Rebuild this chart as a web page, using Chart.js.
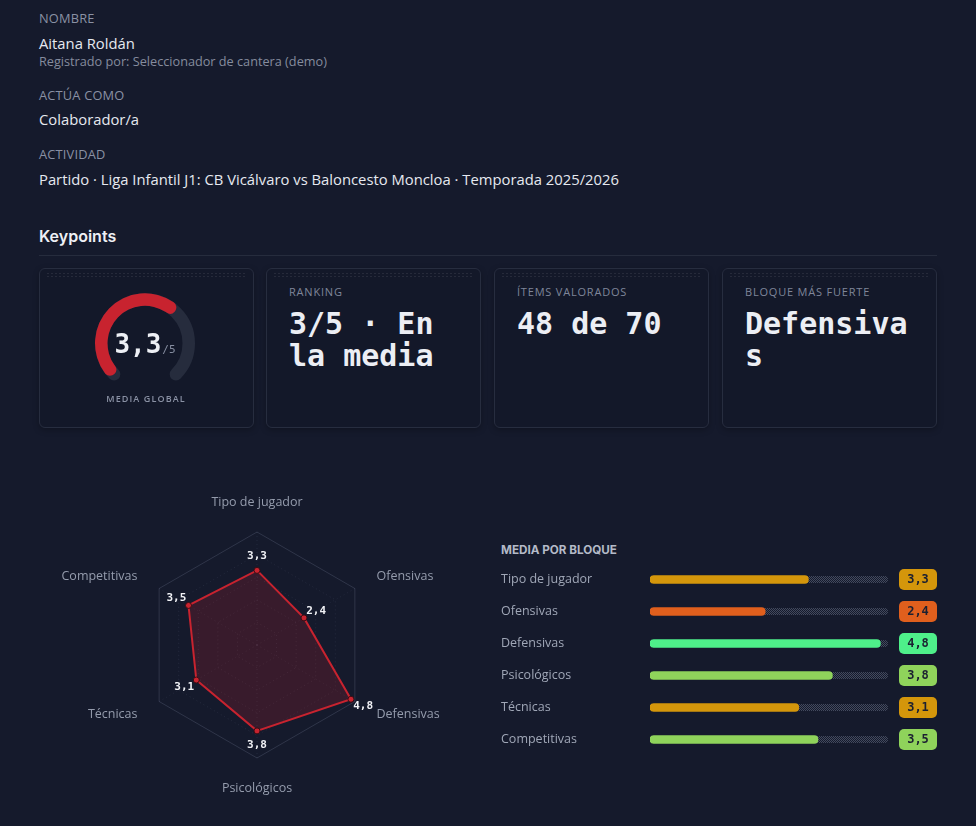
<!DOCTYPE html>
<html lang="es">
<head>
<meta charset="utf-8">
<title>Keypoints</title>
<script src="https://cdn.jsdelivr.net/npm/chart.js@4.4.1/dist/chart.umd.min.js"></script>
<style>
html,body{margin:0;padding:0;width:976px;height:826px;overflow:hidden;background:#151a2c;}
body{position:relative;font-family:"Open Sans","Noto Sans",sans-serif;color:#e4e7ee;}
.abs{position:absolute;white-space:nowrap;}
.flabel{left:39px;font-size:12.8px;line-height:16px;color:#8a91a4;text-transform:uppercase;letter-spacing:.2px;}
.fval{left:39px;font-size:14.8px;line-height:18px;color:#e6e9f0;}
.fsub{left:39px;font-size:12.7px;line-height:16px;color:#858c9e;}
.h2{left:39px;top:226px;font-family:Inter,"Noto Sans",sans-serif;font-weight:600;font-size:16px;line-height:20px;color:#eef0f5;letter-spacing:0px;}
.rule{position:absolute;left:39px;top:255px;width:898px;height:1px;background:#262c3d;}
.card{position:absolute;top:268px;width:213px;height:158px;border:1px solid #272d3f;border-radius:6px;background:#131829;box-shadow:0 2px 6px rgba(0,0,0,.25);}
.card::before{content:"";position:absolute;left:6px;right:6px;top:3px;height:5px;
  background-image:radial-gradient(circle,rgba(255,255,255,.08) 0.7px,transparent 0.9px);background-size:4px 3px;}
.ctitle{font-size:11px;line-height:16px;color:#7f8699;text-transform:uppercase;letter-spacing:.8px;}
.cvalue{position:absolute;width:172px;white-space:normal;overflow-wrap:anywhere;word-break:break-all;font-family:"DejaVu Sans Mono",monospace;font-weight:bold;font-size:30px;line-height:32px;color:#eceef4;}
.mg{font-size:9px;line-height:12px;color:#8a91a4;letter-spacing:1.1px;font-weight:600;text-transform:uppercase;}
.bt{left:501px;top:543px;font-family:Inter,"Noto Sans",sans-serif;font-weight:700;font-size:11.7px;line-height:14px;color:#b4bac8;letter-spacing:0px;text-transform:uppercase;}
canvas{position:absolute;}
</style>
</head>
<body>
<div class="abs flabel" style="top:10px">Nombre</div>
<div class="abs fval" style="top:34px">Aitana Roldán</div>
<div class="abs fsub" style="top:53px">Registrado por: Seleccionador de cantera (demo)</div>
<div class="abs flabel" style="top:87px">Actúa como</div>
<div class="abs fval" style="top:110px">Colaborador/a</div>
<div class="abs flabel" style="top:146px">Actividad</div>
<div class="abs fval" style="top:170px">Partido · Liga Infantil J1: CB Vicálvaro vs Baloncesto Moncloa · Temporada 2025/2026</div>

<div class="abs h2">Keypoints</div>
<div class="rule"></div>

<div class="card" style="left:39px"></div>
<div class="card" style="left:266px"></div>
<div class="card" style="left:494px"></div>
<div class="card" style="left:722px"></div>

<canvas id="gauge" width="120" height="120" style="left:85px;top:276px;width:120px;height:120px"></canvas>
<div class="abs mg" style="left:95px;width:102px;text-align:center;top:393px">Media global</div>

<div class="abs ctitle" style="left:289px;top:284px">Ranking</div>
<div class="cvalue" id="v1" style="left:289px;top:308px"></div>
<div class="abs ctitle" style="left:517px;top:284px">Ítems valorados</div>
<div class="cvalue" id="v2" style="left:517px;top:308px"></div>
<div class="abs ctitle" style="left:745px;top:284px">Bloque más fuerte</div>
<div class="cvalue" id="v3" style="left:745px;top:308px"></div>

<canvas id="radar" width="436" height="345" style="left:39px;top:473px;width:436px;height:345px"></canvas>

<div class="abs bt">Media por bloque</div>
<canvas id="bars" width="439" height="207" style="left:501px;top:556px;width:439px;height:207px"></canvas>

<script>
// ---- data ----
const categories = ['Tipo de jugador', 'Ofensivas', 'Defensivas', 'Psicológicos', 'Técnicas', 'Competitivas'];
const blockMeans = [3.3, 2.4, 4.8, 3.8, 3.1, 3.5];
const globalMean = [3.3];
const scaleMax = [5];
const rankingText = ['3/5 · En la media'];
const itemsText = ['48 de 70'];
const strongestBlock = ['Defensivas'];

// ---- helpers ----
const fmt = v => v.toFixed(1).replace('.', ',');
function colorFor(v) {
  if (v < 2.5) return '#e05f1d';
  if (v < 3.5) return '#d4960b';
  if (v < 4.5) return '#8fd35b';
  return '#4ef08a';
}
const MONO = '"DejaVu Sans Mono", monospace';
const SANS = '"Open Sans", "Noto Sans", sans-serif';

document.getElementById('v1').textContent = rankingText[0];
document.getElementById('v2').textContent = itemsText[0];
document.getElementById('v3').textContent = strongestBlock[0];

Chart.defaults.animation = false;
Chart.defaults.responsive = false;
Chart.defaults.events = [];
Chart.defaults.plugins.legend.display = false;
Chart.defaults.plugins.tooltip.enabled = false;

// ---- gauge ----
const gaugePlugin = {
  id: 'gaugeDeco',
  beforeDatasetsDraw(chart) {
    const meta = chart.getDatasetMeta(0);
    const a0 = meta.data[0], a1 = meta.data[1];
    const ctx = chart.ctx;
    const r = (a0.outerRadius + a0.innerRadius) / 2;
    ctx.save();
    ctx.beginPath();
    ctx.arc(a0.x, a0.y, r, a0.startAngle, a1.endAngle);
    ctx.lineWidth = a0.outerRadius - a0.innerRadius;
    ctx.lineCap = 'round';
    ctx.strokeStyle = '#262c3d';
    ctx.stroke();
    ctx.restore();
  },
  afterDatasetsDraw(chart) {
    const a0 = chart.getDatasetMeta(0).data[0];
    const ctx = chart.ctx;
    const big = fmt(globalMean[0]);
    const small = '/' + scaleMax[0];
    ctx.save();
    ctx.font = '600 26px ' + MONO;
    const wb = ctx.measureText(big).width;
    ctx.font = '11px ' + MONO;
    const ws = ctx.measureText(small).width;
    const x0 = a0.x - (wb + ws + 1) / 2;
    const yb = a0.y + 9.5;
    ctx.textBaseline = 'alphabetic';
    ctx.textAlign = 'left';
    ctx.font = '600 26px ' + MONO;
    ctx.fillStyle = '#eef0f5';
    ctx.fillText(big, x0, yb);
    ctx.font = '11px ' + MONO;
    ctx.fillStyle = '#868da0';
    ctx.fillText(small, x0 + wb + 1, yb);
    ctx.restore();
  }
};
new Chart(document.getElementById('gauge'), {
  type: 'doughnut',
  data: {
    datasets: [{
      data: [globalMean[0], scaleMax[0] - globalMean[0]],
      backgroundColor: ['#c8232f', 'rgba(0,0,0,0)'],
      borderWidth: 0,
      borderRadius: c => c.dataIndex === 0 ? 8 : 0
    }]
  },
  options: { rotation: -135, circumference: 270, radius: 50, cutout: '75%' },
  plugins: [gaugePlugin]
});

// ---- radar ----
const radarLabels = {
  id: 'radarLabels',
  afterDatasetsDraw(chart) {
    const s = chart.scales.r;
    const ctx = chart.ctx;
    const meta = chart.getDatasetMeta(0);
    const n = categories.length;
    ctx.save();
    ctx.font = '12.5px ' + SANS;
    ctx.fillStyle = '#959cad';
    ctx.textBaseline = 'middle';
    for (let i = 0; i < n; i++) {
      const ang = i * 360 / n;
      const vertical = (ang === 0 || ang === 180);
      const p = s.getPointPosition(i, s.drawingArea + (vertical ? 30 : 25));
      ctx.textAlign = vertical ? 'center' : (ang < 180 ? 'left' : 'right');
      ctx.fillText(categories[i], p.x, p.y);
    }
    ctx.font = 'bold 11px ' + MONO;
    ctx.fillStyle = '#f1f2f6';
    ctx.textAlign = 'center';
    for (let i = 0; i < n; i++) {
      const pt = meta.data[i];
      const ang = s.getIndexAngle(i) - Math.PI / 2;
      ctx.fillText(fmt(blockMeans[i]), pt.x + Math.cos(ang) * 14, pt.y + Math.sin(ang) * 14);
    }
    ctx.restore();
  }
};
new Chart(document.getElementById('radar'), {
  type: 'radar',
  data: {
    labels: categories,
    datasets: [{
      data: blockMeans,
      borderColor: '#c8232f',
      borderWidth: 2,
      backgroundColor: 'rgba(200,35,47,0.2)',
      fill: true,
      pointRadius: 3,
      pointBackgroundColor: '#c8232f',
      pointBorderColor: '#3a0d14',
      pointBorderWidth: 1
    }]
  },
  options: {
    layout: { padding: { top: 59, bottom: 59, left: 0, right: 0 } },
    scales: {
      r: {
        min: 0, max: 5,
        ticks: { display: false, stepSize: 1 },
        pointLabels: { display: false },
        grid: {
          color: c => c.tick && c.tick.value === 5 ? 'rgba(140,150,178,0.22)' : 'rgba(140,150,178,0.14)',
          lineWidth: 1
        },
        border: { dash: c => c.tick && c.tick.value === 5 ? [] : [1, 3] },
        angleLines: { color: 'rgba(140,150,178,0.12)', borderDash: [1, 3] }
      }
    }
  },
  plugins: [radarLabels]
});

// ---- bars ----
const pat = document.createElement('canvas');
pat.width = 2; pat.height = 2;
const pctx = pat.getContext('2d');
pctx.fillStyle = 'rgba(125,134,156,0.45)';
pctx.fillRect(0, 0, 1, 1);
pctx.fillRect(1, 1, 1, 1);
const barDeco = {
  id: 'barDeco',
  beforeDatasetsDraw(chart) {
    const ctx = chart.ctx;
    const xs = chart.scales.x;
    const meta = chart.getDatasetMeta(0);
    const x0 = xs.getPixelForValue(0), x1 = xs.getPixelForValue(scaleMax[0]);
    ctx.save();
    ctx.fillStyle = ctx.createPattern(pat, 'repeat');
    meta.data.forEach(b => {
      ctx.beginPath();
      ctx.roundRect(x0, b.y - 3.5, x1 - x0 - 2, 7, 3);
      ctx.fill();
    });
    ctx.restore();
  },
  afterDatasetsDraw(chart) {
    const ctx = chart.ctx;
    const meta = chart.getDatasetMeta(0);
    const bx = chart.chartArea.right + 9;
    ctx.save();
    ctx.font = 'bold 12px ' + MONO;
    ctx.textAlign = 'center';
    ctx.textBaseline = 'middle';
    meta.data.forEach((b, i) => {
      const v = blockMeans[i];
      ctx.fillStyle = colorFor(v);
      ctx.beginPath();
      ctx.roundRect(bx, b.y - 10.5, 38, 21, 5);
      ctx.fill();
      ctx.fillStyle = '#1b2031';
      ctx.fillText(fmt(v), bx + 19, b.y + 0.5);
    });
    ctx.restore();
  }
};
new Chart(document.getElementById('bars'), {
  type: 'bar',
  data: {
    labels: categories,
    datasets: [{
      data: blockMeans,
      backgroundColor: blockMeans.map(colorFor),
      barThickness: 8,
      borderRadius: 4,
      borderSkipped: false
    }]
  },
  options: {
    indexAxis: 'y',
    layout: { padding: { left: 0, right: 50, top: 0, bottom: 0 } },
    scales: {
      x: { display: false, min: 0, max: scaleMax[0] },
      y: {
        grid: { display: false },
        border: { display: false },
        ticks: { crossAlign: 'far', padding: 0, color: '#a0a7b7', font: { size: 12.5, family: SANS } },
        afterFit(s) { s.width = 149; }
      }
    }
  },
  plugins: [barDeco]
});
</script>
</body>
</html>
